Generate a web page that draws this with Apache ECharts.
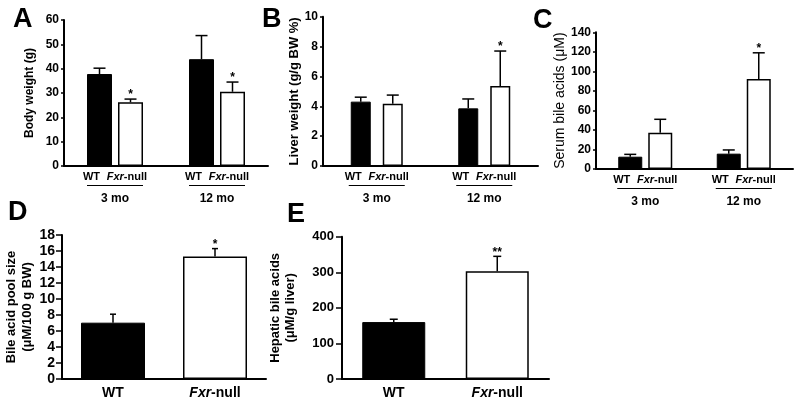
<!DOCTYPE html>
<html><head><meta charset="utf-8">
<script src="https://cdn.jsdelivr.net/npm/echarts@6/dist/echarts.min.js"></script>
<style>html,body{margin:0;padding:0;background:#fff}#c{width:800px;height:408px}</style>
</head><body><div id="c"></div>
<script>
// ---------- data ----------
const ageGroups = ['3 mo', '12 mo'];
// Panel A: Body weight (g)
const bwWT = [37.8, 43.9];
const bwWTsd = [2.4, 9.7];
const bwFxr = [26.2, 30.5];
const bwFxrsd = [1.3, 4.0];
const bwSig = ['', '*', '', '*'];
// Panel B: Liver weight (g/g BW %)
const lwWT = [4.31, 3.86];
const lwWTsd = [0.30, 0.63];
const lwFxr = [4.17, 5.36];
const lwFxrsd = [0.58, 2.34];
const lwSig = ['', '', '', '*'];
// Panel C: Serum bile acids (uM)
const sbWT = [12.6, 15.7];
const sbWTsd = [2.4, 3.8];
const sbFxr = [37.2, 92.2];
const sbFxrsd = [13.7, 26.8];
const sbSig = ['', '', '', '*'];
// Panel D: Bile acid pool size
const genotypes = ['WT', 'Fxr-null'];
const poolVals = [7.04, 15.3];
const poolSd = [1.06, 1.0];
const poolSig = ['', '*'];
// Panel E: Hepatic bile acids
const hepVals = [160, 302.8];
const hepSd = [8, 42];
const hepSig = ['', '**'];

// ---------- helpers ----------
const FF = '"Liberation Sans", Arial, Helvetica, sans-serif';
const BLACK = '#000';

function errBars(idx, means, sds, sigs, offsetPx, cap) {
  return {
    type: 'custom', xAxisIndex: idx, yAxisIndex: idx, z: 5, silent: true,
    data: means.map((m, i) => [i, m, m + sds[i]]),
    renderItem: function (params, api) {
      const base = api.coord([api.value(0), api.value(1)]);
      const top = api.coord([api.value(0), api.value(2)]);
      const cx = base[0] + offsetPx;
      const sig = sigs[params.dataIndex] || '';
      const ch = [
        {type: 'line', shape: {x1: cx, y1: base[1], x2: cx, y2: top[1]}, style: {stroke: BLACK, lineWidth: 1.5}},
        {type: 'line', shape: {x1: cx - cap, y1: top[1], x2: cx + cap, y2: top[1]}, style: {stroke: BLACK, lineWidth: 1.5}}
      ];
      if (sig) ch.push({type: 'text', style: {text: sig, x: cx, y: top[1] + 2, align: 'center', verticalAlign: 'bottom', font: 'bold 12px ' + FF, fill: BLACK}});
      return {type: 'group', children: ch};
    }
  };
}

function groupLabel() {
  return {
    interval: 0, margin: 5, color: BLACK,
    formatter: v => '{w|WT}  {f|Fxr}{n|-null}\n{l| }\n{m|' + v + '}',
    rich: {
      w: {fontFamily: FF, fontWeight: 'bold', fontSize: 11, lineHeight: 12, color: BLACK},
      f: {fontFamily: FF, fontWeight: 'bold', fontStyle: 'italic', fontSize: 11, lineHeight: 12, color: BLACK},
      n: {fontFamily: FF, fontWeight: 'bold', fontSize: 11, lineHeight: 12, color: BLACK},
      l: {width: 56, height: 1.2, backgroundColor: BLACK, lineHeight: 5, fontSize: 1},
      m: {fontFamily: FF, fontWeight: 'bold', fontSize: 12, lineHeight: 22, color: BLACK}
    }
  };
}

function genoLabel() {
  return {
    interval: 0, margin: 7, color: BLACK,
    formatter: v => v === 'WT' ? '{n|WT}' : '{f|Fxr}{n|-null}',
    rich: {
      f: {fontFamily: FF, fontWeight: 'bold', fontStyle: 'italic', fontSize: 14, color: BLACK},
      n: {fontFamily: FF, fontWeight: 'bold', fontSize: 14, color: BLACK}
    }
  };
}

function xCat(idx, data, label) {
  return {
    type: 'category', gridIndex: idx, data: data,
    axisLine: {lineStyle: {color: BLACK, width: 2}},
    axisTick: {show: false}, axisLabel: label, splitLine: {show: false}
  };
}

function yVal(idx, min, max, interval, name, nameGap, nameFont, tickLen, labelSize, labelMargin) {
  return {
    type: 'value', gridIndex: idx, min: min, max: max, interval: interval,
    name: name, nameLocation: 'middle', nameGap: nameGap, nameRotate: 90,
    nameTextStyle: Object.assign({color: BLACK, fontFamily: FF, align: 'center'}, nameFont),
    axisLine: {show: true, lineStyle: {color: BLACK, width: 2}},
    axisTick: {show: true, length: tickLen, lineStyle: {color: BLACK, width: 1.5}},
    axisLabel: {color: BLACK, fontFamily: FF, fontWeight: 'bold', fontSize: labelSize, margin: labelMargin},
    splitLine: {show: false}
  };
}

function pairBars(idx, wt, fx, barW, gapPct) {
  return [
    {type: 'bar', xAxisIndex: idx, yAxisIndex: idx, data: wt, barWidth: barW, barGap: gapPct,
     itemStyle: {color: BLACK, borderColor: BLACK, borderWidth: 1}, silent: true},
    {type: 'bar', xAxisIndex: idx, yAxisIndex: idx, data: fx, barWidth: barW, barGap: gapPct,
     itemStyle: {color: '#fff', borderColor: BLACK, borderWidth: 1.5}, silent: true}
  ];
}

function singleBars(idx, vals, barW) {
  return {
    type: 'bar', xAxisIndex: idx, yAxisIndex: idx, barWidth: barW, silent: true,
    data: vals.map((v, i) => ({value: v, itemStyle: i === 0
      ? {color: BLACK, borderColor: BLACK, borderWidth: 1}
      : {color: '#fff', borderColor: BLACK, borderWidth: 1.5}}))
  };
}

const chart = echarts.init(document.getElementById('c'), null, {renderer: 'canvas'});

const grids = [
  {left: 64, top: 20, width: 204, height: 146},
  {left: 323, top: 16.7, width: 215, height: 149.3},
  {left: 596, top: 32.3, width: 197, height: 136.7},
  {left: 62, top: 235, width: 204, height: 144},
  {left: 342, top: 236.7, width: 207, height: 142.3}
];

// bar geometry (pixel style)
const A = {w: 25, gap: 6}, B = {w: 20, gap: 12}, C = {w: 24, gap: 6};

const series = [].concat(
  pairBars(0, bwWT, bwFxr, A.w, (A.gap / A.w * 100) + '%'),
  [errBars(0, bwWT, bwWTsd, [bwSig[0], bwSig[2]], -(A.w + A.gap) / 2, 6),
   errBars(0, bwFxr, bwFxrsd, [bwSig[1], bwSig[3]], (A.w + A.gap) / 2, 6)],
  pairBars(1, lwWT, lwFxr, B.w, (B.gap / B.w * 100) + '%'),
  [errBars(1, lwWT, lwWTsd, [lwSig[0], lwSig[2]], -(B.w + B.gap) / 2, 6),
   errBars(1, lwFxr, lwFxrsd, [lwSig[1], lwSig[3]], (B.w + B.gap) / 2, 6)],
  pairBars(2, sbWT, sbFxr, C.w, (C.gap / C.w * 100) + '%'),
  [errBars(2, sbWT, sbWTsd, [sbSig[0], sbSig[2]], -(C.w + C.gap) / 2, 6),
   errBars(2, sbFxr, sbFxrsd, [sbSig[1], sbSig[3]], (C.w + C.gap) / 2, 6)],
  [singleBars(3, poolVals, 64), errBars(3, poolVals, poolSd, poolSig, 0, 3)],
  [singleBars(4, hepVals, 63), errBars(4, hepVals, hepSd, hepSig, 0, 4)]
);

const letter = (t, x, y) => ({type: 'text', left: x, top: y, style: {text: t, font: 'bold 27px ' + FF, fill: BLACK}});

chart.setOption({
  animation: false,
  backgroundColor: '#fff',
  grid: grids,
  xAxis: [
    xCat(0, ageGroups, groupLabel()),
    xCat(1, ageGroups, groupLabel()),
    xCat(2, ageGroups, groupLabel()),
    xCat(3, genotypes, genoLabel()),
    xCat(4, genotypes, genoLabel())
  ],
  yAxis: [
    yVal(0, 0, 60, 10, 'Body weight (g)', 28, {fontSize: 12, fontWeight: 'bold'}, 3, 12, 5),
    yVal(1, 0, 10, 2, 'Liver weight (g/g BW %)', 19, {fontSize: 13, fontWeight: 'bold'}, 3, 12, 5),
    yVal(2, 0, 140, 20, 'Serum bile acids (\u03bcM)', 27, {fontSize: 14, fontWeight: 'normal'}, 3, 12, 5),
    yVal(3, 0, 18, 2, 'Bile acid pool size\n(\u03bcM/100 g BW)', 25, {fontSize: 13, fontWeight: 'bold', lineHeight: 16}, 6, 14, 7),
    yVal(4, 0, 400, 100, 'Hepatic bile acids\n(\u03bcM/g liver)', 44, {fontSize: 13, fontWeight: 'bold', lineHeight: 15}, 6, 13, 8)
  ],
  series: series,
  graphic: [
    letter('A', 13, 6),
    letter('B', 262, 6),
    letter('C', 533, 7),
    letter('D', 8, 199),
    letter('E', 287, 201)
  ]
});
</script></body></html>
